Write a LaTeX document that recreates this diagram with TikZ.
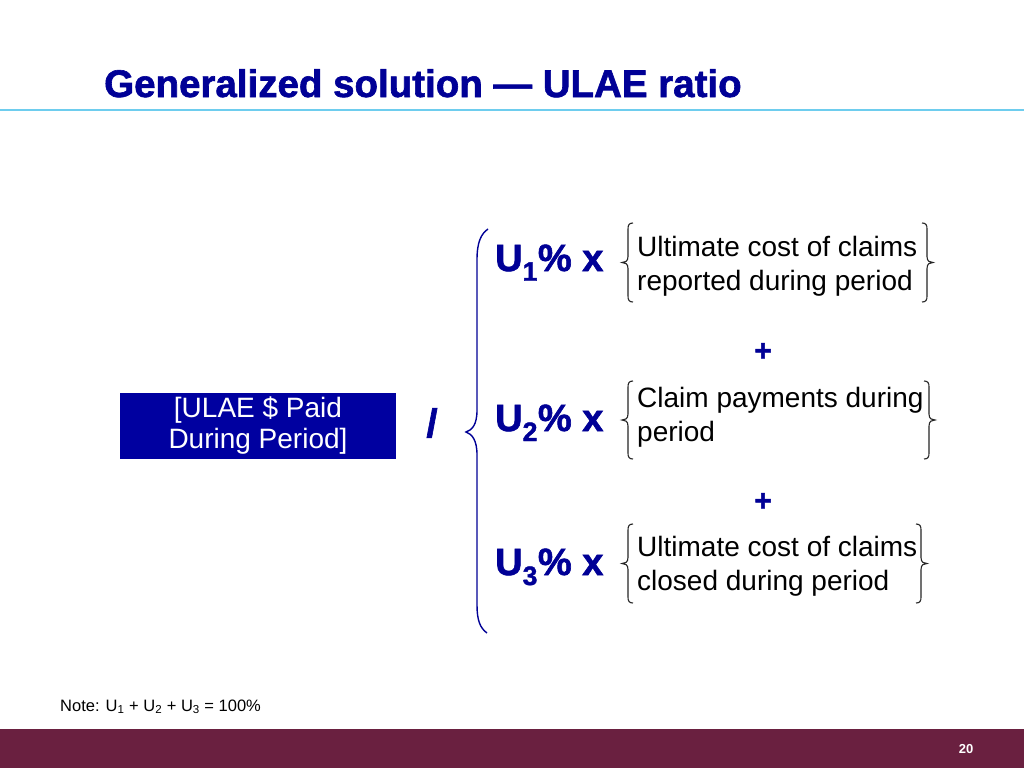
\documentclass[tikz,border=0pt]{standalone}
\usepackage{fontspec}
\setmainfont{Liberation Sans}
\newfontfamily\heavyfont[FakeBold=1.6]{Liberation Sans Bold}
\definecolor{navy}{RGB}{0,0,150}
\definecolor{boxblue}{RGB}{0,0,160}
\definecolor{maroon}{RGB}{106,32,64}
\definecolor{rulecyan}{RGB}{110,205,238}
\newcommand\mylbrace[3]{% x-vertical, top, bottom
  \draw[smallbrace] (#1+5,#2) .. controls (#1+1,#2) and (#1,#2+2) .. (#1,#2+6)
    -- (#1,{(#2+#3)/2-6}) .. controls (#1,{(#2+#3)/2-1}) and (#1-3,{(#2+#3)/2}) .. (#1-6,{(#2+#3)/2})
    .. controls (#1-3,{(#2+#3)/2}) and (#1,{(#2+#3)/2+1}) .. (#1,{(#2+#3)/2+6})
    -- (#1,#3-6) .. controls (#1,#3-2) and (#1+1,#3) .. (#1+5,#3);}
\newcommand\myrbrace[3]{%
  \draw[smallbrace] (#1-5,#2) .. controls (#1-1,#2) and (#1,#2+2) .. (#1,#2+6)
    -- (#1,{(#2+#3)/2-6}) .. controls (#1,{(#2+#3)/2-1}) and (#1+3,{(#2+#3)/2}) .. (#1+6,{(#2+#3)/2})
    .. controls (#1+3,{(#2+#3)/2}) and (#1,{(#2+#3)/2+1}) .. (#1,{(#2+#3)/2+6})
    -- (#1,#3-6) .. controls (#1,#3-2) and (#1-1,#3) .. (#1-5,#3);}
\tikzset{
  smallbrace/.style={draw=black!85, line width=1.1pt},
  bigbrace/.style={draw=navy, line width=1.4pt},
  body/.style={inner sep=0pt, anchor=base west, font=\fontsize{28}{33}\selectfont},
  ufactor/.style={inner sep=0pt, anchor=base west, text=navy, font=\fontsize{38}{40}\selectfont\heavyfont},
  plus/.style={inner sep=0pt, text=navy, font=\fontsize{30}{30}\selectfont\heavyfont},
}
\begin{document}
\begin{tikzpicture}[x=1pt,y=-1pt]
\useasboundingbox (0,0) rectangle (1024,768);
\fill[white] (0,0) rectangle (1024,768);
% title
\node[inner sep=0pt, anchor=base west, text=navy, font=\fontsize{38.5}{40}\selectfont\heavyfont] (title) at (104,97) {Generalized solution — ULAE ratio};
\draw[rulecyan, line width=1.5pt] (0,110) -- (1024,110);
% footer
\fill[maroon] (0,729) rectangle (1024,768);
\node[inner sep=0pt, text=white, font=\fontsize{13}{13}\selectfont\bfseries] (page) at (966,749) {20};
% note
\node[body, font=\fontsize{16.5}{18}\selectfont] (note) at (60,711) {Note: U\textsubscript{1} + U\textsubscript{2} + U\textsubscript{3} = 100\%};
% box
\fill[boxblue] (120,393) rectangle (396,459);
\node[inner sep=0pt, text=white, align=center, font=\fontsize{28}{31}\selectfont] (ulae) at (258,426) {[ULAE \$ Paid\\During Period]};
% slash
\node[inner sep=0pt, text=navy, font=\fontsize{40}{40}\selectfont\heavyfont] (slash) at (432,423) {/};
% big brace
\draw[bigbrace] (488,229) .. controls (481,234) and (477,242) .. (477,260) -- (477,410)
  .. controls (477,425) and (472,430) .. (466,432) .. controls (472,434) and (477,440) .. (477,455)
  -- (477,605) .. controls (477,620) and (480,628) .. (487,633);
% factors
\node[ufactor] (u1) at (495,271) {U\textsubscript{1}\% x};
\node[ufactor] (u2) at (495,431) {U\textsubscript{2}\% x};
\node[ufactor] (u3) at (495,575) {U\textsubscript{3}\% x};
% texts
\node[body] (t1a) at (637,256) {Ultimate cost of claims};
\node[body] (t1b) at (637,290) {reported during period};
\node[body] (t2a) at (637,407) {Claim payments during};
\node[body] (t2b) at (637,441) {period};
\node[body] (t3a) at (637,556) {Ultimate cost of claims};
\node[body] (t3b) at (637,590) {closed during period};
% pluses
\node[plus] (p1) at (763,352) {+};
\node[plus] (p2) at (763,502) {+};
% small braces
\mylbrace{628}{223}{302}
\myrbrace{927}{223}{302}
\mylbrace{628}{381}{459}
\myrbrace{929}{381}{459}
\mylbrace{628}{524}{603}
\myrbrace{921}{524}{603}
\end{tikzpicture}
\end{document}
